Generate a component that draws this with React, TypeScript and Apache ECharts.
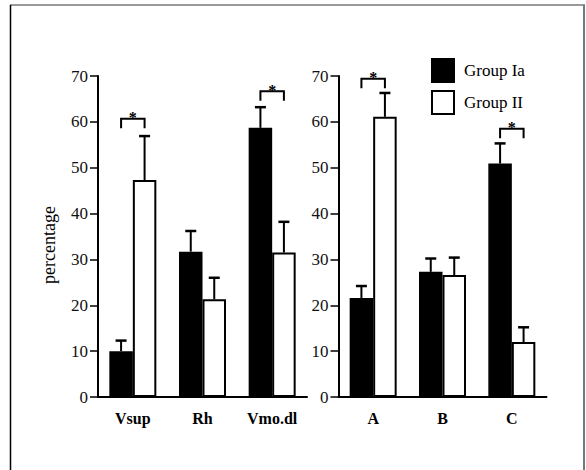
import React, { useEffect, useRef } from "react";
import * as echarts from "echarts";

const categoriesLeft = ["Vsup", "Rh", "Vmo.dl"];
const categoriesRight = ["A", "B", "C"];

const groupIaLeft = [10.0, 31.7, 58.7];
const groupIILeft = [47.3, 21.3, 31.5];
const groupIaLeftUpper = [12.3, 36.2, 63.2];
const groupIILeftUpper = [56.9, 26.0, 38.2];

const groupIaRight = [21.6, 27.3, 50.9];
const groupIIRight = [61.1, 26.6, 12.0];
const groupIaRightUpper = [24.2, 30.2, 55.3];
const groupIIRightUpper = [66.3, 30.4, 15.2];

const sigLeftCats = [0, 2];
const sigLeftTop = [60.7, 66.7];
const sigRightCats = [0, 2];
const sigRightTop = [69.4, 58.5];

const yMin = 0;
const yMax = 70;
const yInterval = 10;

const BAR_W = 23.5;
const LEG = 9.5;
const SERIF = "'Liberation Serif', 'Times New Roman', serif";

function errorRender(sign: number) {
  return (params: any, api: any) => {
    const c = api.value(0);
    const mean = api.value(1);
    const hi = api.value(2);
    const p0 = api.coord([c, mean]);
    const p1 = api.coord([c, hi]);
    const x = p0[0] + (sign * BAR_W) / 2;
    return {
      type: "group",
      children: [
        {
          type: "line",
          shape: { x1: x, y1: p0[1], x2: x, y2: p1[1] },
          style: { stroke: "#000", lineWidth: 2 },
        },
        {
          type: "line",
          shape: { x1: x - 5.5, y1: p1[1], x2: x + 5.5, y2: p1[1] },
          style: { stroke: "#000", lineWidth: 2.5 },
        },
      ],
    };
  };
}

function bracketRender(params: any, api: any) {
  const c = api.value(0);
  const top = api.value(1);
  const p = api.coord([c, top]);
  const xl = p[0] - BAR_W / 2;
  const xr = p[0] + BAR_W / 2;
  return {
    type: "group",
    children: [
      {
        type: "polyline",
        shape: {
          points: [
            [xl, p[1] + LEG],
            [xl, p[1]],
            [xr, p[1]],
            [xr, p[1] + LEG],
          ],
        },
        style: { stroke: "#000", lineWidth: 2, fill: null },
      },
      {
        type: "text",
        x: p[0],
        y: p[1] - 1,
        style: {
          text: "*",
          font: `bold 16px ${SERIF}`,
          fill: "#000",
          textAlign: "center",
          textVerticalAlign: "middle",
        },
      },
    ],
  };
}

export default function App() {
  const ref = useRef<HTMLDivElement>(null);

  useEffect(() => {
    document.body.style.margin = "0";
    if (!ref.current) return;
    const chart = echarts.init(ref.current, null, { renderer: "svg" });

    const yAxisBase = (gridIndex: number) => ({
      type: "value",
      gridIndex,
      min: yMin,
      max: yMax,
      interval: yInterval,
      splitLine: { show: false },
      axisLine: { show: true, lineStyle: { color: "#000", width: 2 } },
      axisTick: { show: true, length: 8, lineStyle: { color: "#000", width: 1.5 } },
      axisLabel: { color: "#111", fontFamily: SERIF, fontSize: 17, margin: 10 },
    });

    const xAxisBase = (gridIndex: number, data: string[]) => ({
      type: "category",
      gridIndex,
      data,
      axisLine: { show: true, lineStyle: { color: "#000", width: 2 } },
      axisTick: { show: false },
      axisLabel: {
        color: "#000",
        fontFamily: SERIF,
        fontSize: 16,
        fontWeight: "bold",
        margin: 13,
      },
    });

    const blackStyle = { color: "#000", borderColor: "#000", borderWidth: 1.5 };
    const whiteStyle = { color: "#fff", borderColor: "#000", borderWidth: 2 };

    const option: any = {
      animation: false,
      backgroundColor: "#fff",
      legend: {
        data: ["Group Ia", "Group II"],
        orient: "vertical",
        left: 426,
        top: 53,
        itemWidth: 22,
        itemHeight: 23,
        itemGap: 7,
        icon: "rect",
        textStyle: { fontFamily: SERIF, fontSize: 17, color: "#000", padding: [0, 0, 0, 5] },
      },
      grid: [
        { left: 98, top: 76, width: 209, height: 321 },
        { left: 338.5, top: 76, width: 208, height: 321 },
      ],
      xAxis: [xAxisBase(0, categoriesLeft), xAxisBase(1, categoriesRight)],
      yAxis: [yAxisBase(0), yAxisBase(1)],
      graphic: [
        {
          type: "line",
          shape: { x1: 10, y1: 5, x2: 585, y2: 5 },
          style: { stroke: "#777", lineWidth: 1.5 },
        },
        {
          type: "line",
          shape: { x1: 10.5, y1: 5, x2: 10.5, y2: 470 },
          style: { stroke: "#000", lineWidth: 1.5 },
        },
        {
          type: "line",
          shape: { x1: 584, y1: 5, x2: 584, y2: 470 },
          style: { stroke: "#777", lineWidth: 2 },
        },
        {
          type: "text",
          x: 49,
          y: 245,
          rotation: Math.PI / 2,
          style: {
            text: "percentage",
            font: `18px ${SERIF}`,
            fill: "#000",
            textAlign: "center",
            textVerticalAlign: "middle",
          },
        },
      ],
      series: [
        {
          name: "Group Ia",
          type: "bar",
          xAxisIndex: 0,
          yAxisIndex: 0,
          data: groupIaLeft,
          barWidth: BAR_W,
          barGap: "0%",
          itemStyle: blackStyle,
        },
        {
          name: "Group II",
          type: "bar",
          xAxisIndex: 0,
          yAxisIndex: 0,
          data: groupIILeft,
          barWidth: BAR_W,
          barGap: "0%",
          itemStyle: whiteStyle,
        },
        {
          name: "Group Ia",
          type: "bar",
          xAxisIndex: 1,
          yAxisIndex: 1,
          data: groupIaRight,
          barWidth: BAR_W,
          barGap: "0%",
          itemStyle: blackStyle,
        },
        {
          name: "Group II",
          type: "bar",
          xAxisIndex: 1,
          yAxisIndex: 1,
          data: groupIIRight,
          barWidth: BAR_W,
          barGap: "0%",
          itemStyle: whiteStyle,
        },
        {
          name: "errIaL",
          type: "custom",
          xAxisIndex: 0,
          yAxisIndex: 0,
          renderItem: errorRender(-1),
          data: groupIaLeft.map((v, i) => [i, v, groupIaLeftUpper[i]]),
        },
        {
          name: "errIIL",
          type: "custom",
          xAxisIndex: 0,
          yAxisIndex: 0,
          renderItem: errorRender(1),
          data: groupIILeft.map((v, i) => [i, v, groupIILeftUpper[i]]),
        },
        {
          name: "errIaR",
          type: "custom",
          xAxisIndex: 1,
          yAxisIndex: 1,
          renderItem: errorRender(-1),
          data: groupIaRight.map((v, i) => [i, v, groupIaRightUpper[i]]),
        },
        {
          name: "errIIR",
          type: "custom",
          xAxisIndex: 1,
          yAxisIndex: 1,
          renderItem: errorRender(1),
          data: groupIIRight.map((v, i) => [i, v, groupIIRightUpper[i]]),
        },
        {
          name: "sigL",
          type: "custom",
          xAxisIndex: 0,
          yAxisIndex: 0,
          renderItem: bracketRender,
          data: sigLeftCats.map((c, i) => [c, sigLeftTop[i]]),
        },
        {
          name: "sigR",
          type: "custom",
          xAxisIndex: 1,
          yAxisIndex: 1,
          renderItem: bracketRender,
          data: sigRightCats.map((c, i) => [c, sigRightTop[i]]),
        },
      ],
    };

    chart.setOption(option);
    return () => chart.dispose();
  }, []);

  return <div ref={ref} style={{ width: 586, height: 470 }} />;
}
